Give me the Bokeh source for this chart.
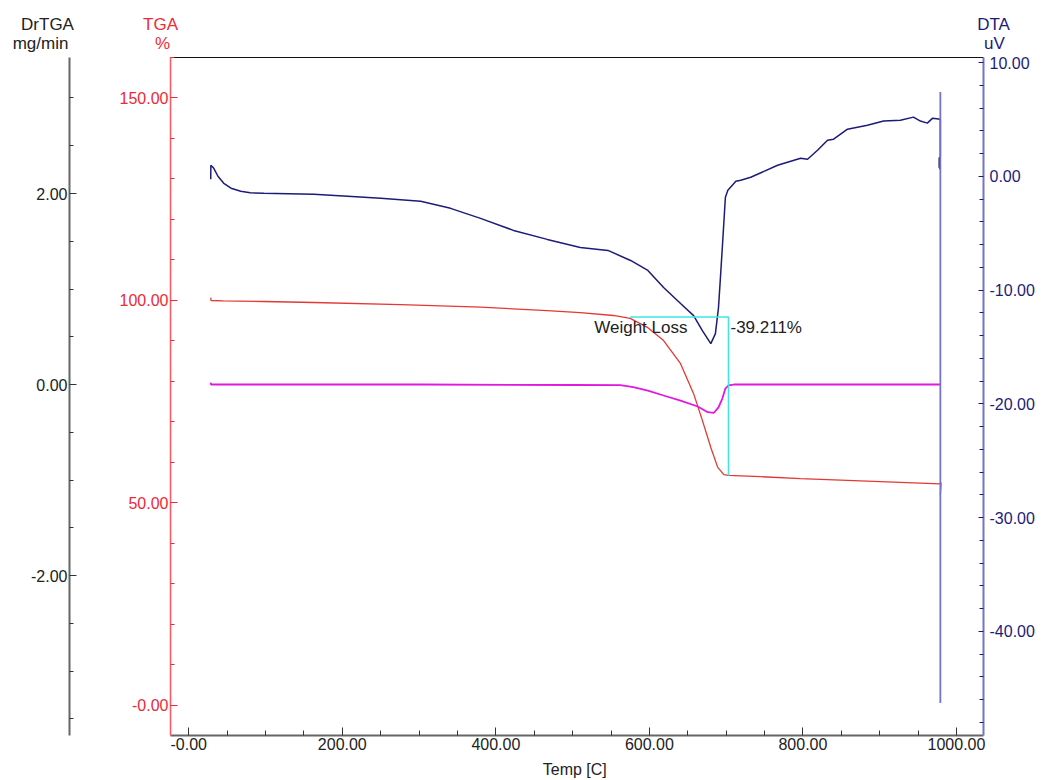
from bokeh.plotting import figure
from bokeh.layouts import column, row
from bokeh.models import Range1d, LinearAxis, FixedTicker, Label, NumeralTickFormatter
from bokeh.embed import file_html
from bokeh.resources import INLINE

# ---------------- data ----------------
tga_temp = [28.6, 29.0, 45, 97.7, 162.8, 276, 380, 467, 510, 553, 575, 598, 618.5,
            640.6, 657.6, 669, 680, 689, 697, 703, 745, 797, 901, 970, 977, 980, 979]
tga_pct = [100.7, 100.0, 99.9, 99.75, 99.5, 99.0, 98.35, 97.5, 97.0, 96.3, 95.6, 93.3, 90.1,
           84.4, 77.0, 70.4, 63.7, 58.8, 57.0, 56.8, 56.5, 56.0, 55.3, 54.8, 54.7, 55.0, 52.0]

dr_temp = [28.6, 29.0, 100, 300, 500, 562, 579, 598, 618.5, 640.6, 663, 676, 684,
           690, 695, 699, 703, 710, 800, 979]
dr_mgmin = [0.02, 0.0, 0.0, 0.0, -0.005, -0.007, -0.028, -0.063, -0.115, -0.168, -0.23, -0.29, -0.296,
            -0.24, -0.147, -0.042, -0.01, 0.0, 0.0, 0.0]

dta_temp = [28.6, 28.8, 32.6, 38, 45.6, 55, 67.7, 80, 97.7, 130, 162.8, 207, 250, 302, 341,
            380, 423, 467, 510, 546, 575.5, 598, 618.5, 640.6, 657.6, 669, 680, 686, 690,
            692.3, 695, 699, 702.2, 712.6, 719, 732, 767, 797, 806, 819, 832, 840, 858,
            884, 905, 927, 944, 953, 962, 969, 979, 979, 977.5, 977.5, 979]
dta_uv = [-0.26, 0.97, 0.70, 0.0, -0.62, -1.05, -1.32, -1.45, -1.50, -1.53, -1.59, -1.76, -1.94,
          -2.20, -2.82, -3.70, -4.76, -5.55, -6.26, -6.52, -7.40, -8.28, -9.78, -11.19, -12.25,
          -13.57, -14.71, -13.83, -11.54, -9.15, -6.26, -1.85, -1.23, -0.44, -0.35, -0.09, 0.97,
          1.59, 1.50, 2.29, 3.17, 3.26, 4.14, 4.49, 4.85, 4.93, 5.20, 4.85, 4.67, 5.11, 5.02,
          1.7, 1.6, 0.8, 0.6]

dta_marker_temp = 979
dta_marker_top = 7.4
dta_marker_bottom = -46.3

wl_start_temp = 575
wl_end_temp = 703
wl_top_pct = 95.9
wl_bottom_pct = 56.7
wl_label = "Weight Loss"
wl_value = "-39.211%"

x_major = [0, 200, 400, 600, 800, 1000]
x_minor = [50, 100, 150, 250, 300, 350, 450, 500, 550, 650, 700, 750, 850, 900, 950]
tga_major = [0, 50, 100, 150]
tga_minor = [10, 20, 30, 40, 60, 70, 80, 90, 110, 120, 130, 140, 160]
dr_major = [-2, 0, 2]
dr_minor = [-3.5, -3, -2.5, -1.5, -1, -0.5, 0.5, 1, 1.5, 2.5, 3]
dta_major = [-40, -30, -20, -10, 0, 10]
dta_minor = [-48, -46, -44, -42, -38, -36, -34, -32, -28, -26, -24, -22, -18, -16, -14, -12,
             -8, -6, -4, -2, 2, 4, 6, 8]

title_texts = ["DrTGA", "mg/min", "TGA", "%", "DTA", "uV"]

FONT = "Liberation Sans"
RED = "#ee2a36"
NAVY = "#1c1c78"
BLUE_AX = "#7474c6"
GRAY = "#666666"
TXT = "#222222"

TOP_H = 54

# ---------------- header strip with axis titles ----------------
hdr = figure(width=1047, height=TOP_H, x_range=Range1d(0, 1047), y_range=Range1d(TOP_H, 0),
             output_backend="svg", toolbar_location=None,
             min_border=0, x_axis_type=None, y_axis_type=None)
hdr.grid.visible = False
hdr.outline_line_color = None
hdr_pos = [(47, 24), (40, 43), (160, 24), (162, 43), (993, 24), (994, 43)]
hdr_col = [TXT, TXT, RED, RED, NAVY, NAVY]
for t, (x, y), c in zip(title_texts, hdr_pos, hdr_col):
    hdr.add_layout(Label(x=x, y=y, text=t, text_align="center", text_baseline="middle",
                         text_font=FONT, text_font_size="17px", text_color=c))

# ---------------- main plot ----------------
p = figure(frame_width=813, frame_height=678,
           x_range=Range1d(-23.8, 1035.2), y_range=Range1d(-7.41, 160.0),
           output_backend="svg", toolbar_location=None,
           min_border_left=170, min_border_top=57 - TOP_H, min_border_right=64, min_border_bottom=45)
p.extra_y_ranges = {"dr": Range1d(-3.675, 3.424), "dta": Range1d(-49.16, 10.44)}
p.grid.visible = False
p.outline_line_color = None
p.background_fill_color = "white"
p.border_fill_color = "white"

# ---- x axis
xa = p.xaxis[0]
xa.ticker = FixedTicker(ticks=x_major, minor_ticks=x_minor)
xa.formatter = NumeralTickFormatter(format="0.00")
xa.major_label_overrides = {0: "-0.00"}
xa.axis_label = "Temp  [C]"
xa.axis_label_text_font = FONT
xa.axis_label_text_font_style = "normal"
xa.axis_label_text_font_size = "16px"
xa.axis_label_text_color = TXT
xa.axis_label_standoff = 8
xa.major_label_standoff = 2
xa.major_label_text_font = FONT
xa.major_label_text_font_size = "16px"
xa.major_label_text_color = TXT
xa.axis_line_color = GRAY
xa.axis_line_width = 2
xa.major_tick_in = 8
xa.major_tick_out = 0
xa.minor_tick_in = 5
xa.minor_tick_out = 0
xa.major_tick_line_color = "#333333"
xa.minor_tick_line_color = "#333333"

# ---- TGA axis (inner left)
ta = p.yaxis[0]
ta.ticker = FixedTicker(ticks=tga_major, minor_ticks=tga_minor)
ta.formatter = NumeralTickFormatter(format="0.00")
ta.major_label_overrides = {0: "-0.00"}
ta.major_label_text_font = FONT
ta.major_label_text_font_size = "16px"
ta.major_label_text_color = RED
ta.major_label_standoff = 2
ta.axis_line_color = "#ff5560"
ta.axis_line_width = 1.5
ta.major_tick_line_color = RED
ta.minor_tick_line_color = RED
ta.major_tick_in = 7
ta.major_tick_out = 0
ta.minor_tick_in = 4
ta.minor_tick_out = 0
ta.axis_label = " "
ta.axis_label_text_font_size = "1px"
ta.axis_label_standoff = 43

# ---- DrTGA axis (outer left)
da = LinearAxis(y_range_name="dr",
                ticker=FixedTicker(ticks=dr_major, minor_ticks=dr_minor),
                formatter=NumeralTickFormatter(format="0.00"),
                major_label_text_font=FONT, major_label_text_font_size="16px",
                major_label_text_color=TXT, major_label_standoff=2,
                axis_line_color=GRAY, axis_line_width=2,
                major_tick_line_color="#333333", minor_tick_line_color="#333333",
                major_tick_in=7, major_tick_out=0, minor_tick_in=4, minor_tick_out=0)
p.add_layout(da, "left")

# ---- DTA axis (right)
ra = LinearAxis(y_range_name="dta",
                ticker=FixedTicker(ticks=dta_major, minor_ticks=dta_minor),
                formatter=NumeralTickFormatter(format="0.00"),
                major_label_text_font=FONT, major_label_text_font_size="16px",
                major_label_text_color=NAVY, major_label_standoff=6,
                axis_line_color=BLUE_AX, axis_line_width=2,
                major_tick_line_color=NAVY, minor_tick_line_color=NAVY,
                major_tick_in=5, major_tick_out=0, minor_tick_in=4, minor_tick_out=0)
p.add_layout(ra, "right")

# ---- top border line
top = LinearAxis(ticker=FixedTicker(ticks=[]), axis_line_color="#111111", axis_line_width=1,
                 major_tick_out=0, major_tick_in=0, major_label_standoff=0)
p.add_layout(top, "above")

# ---- curves
p.line(tga_temp, tga_pct, line_color="#e23a32", line_width=1.3)
p.line(dr_temp, dr_mgmin, y_range_name="dr", line_color="#e018e0", line_width=1.8)
p.line(dta_temp, dta_uv, y_range_name="dta", line_color=NAVY, line_width=1.5)
p.segment(x0=[dta_marker_temp], y0=[dta_marker_top], x1=[dta_marker_temp], y1=[dta_marker_bottom],
          y_range_name="dta", line_color=BLUE_AX, line_width=1.8)

# weight loss bracket
p.line([wl_start_temp, wl_end_temp, wl_end_temp], [wl_top_pct, wl_top_pct, wl_bottom_pct],
       line_color="#3ee6e6", line_width=1.5)
p.add_layout(Label(x=wl_end_temp, y=wl_top_pct, text=wl_label, x_offset=-41, y_offset=-10,
                   text_align="right", text_baseline="middle", text_font=FONT,
                   text_font_size="17px", text_color=TXT))
p.add_layout(Label(x=wl_end_temp, y=wl_top_pct, text=wl_value, x_offset=2, y_offset=-10,
                   text_align="left", text_baseline="middle", text_font=FONT,
                   text_font_size="17px", text_color=TXT))

layout = column(hdr, row(p), spacing=0)
open("out.html", "w").write(file_html(layout, INLINE))
